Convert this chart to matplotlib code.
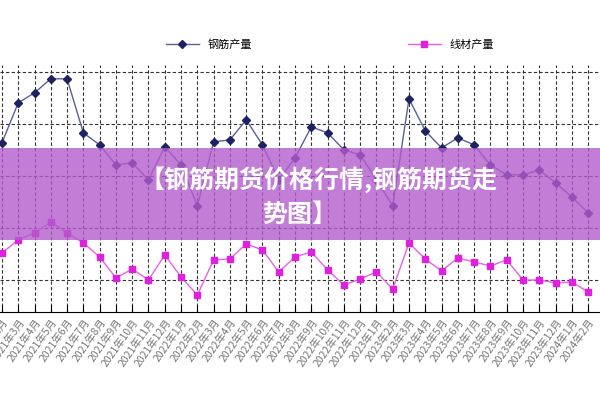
import numpy as np
import matplotlib.pyplot as plt
from matplotlib.patches import Rectangle

plt.rcParams['font.family'] = ['Noto Sans CJK SC', 'DejaVu Sans']

months = []
for y in (2021, 2022, 2023, 2024):
    for m in range(1, 13):
        months.append(f'{y}年{m}月')
months = months[1:38]  # 2021年2月 .. 2024年2月

rebar = [177, 217, 227, 241, 241, 187, 175, 155, 157, 140, 173, 155, 114, 178, 180,
         200, 175, 140, 162, 193, 187, 170, 165, 140, 114, 221, 189, 172, 182, 175,
         155, 145, 145, 150, 137, 123, 107]
wire = [67, 80, 87, 98, 87, 77, 63, 42, 51, 40, 65, 43, 25, 60, 61,
        76, 70, 48, 63, 68, 50, 35, 41, 48, 31, 77, 61, 49, 62, 58,
        54, 60, 40, 40, 37, 38, 28]

x = np.arange(len(months))

fig = plt.figure(figsize=(6, 4), dpi=100)
ax = fig.add_axes([0, 0.22, 1, 0.618])
ax.plot(x, rebar, color='#5a5f95', marker='D', markersize=4, lw=1.0,
        mfc='#1e2260', mec='#1e2260', label='钢筋产量')
ax.plot(x, wire, color='#e860e8', marker='s', markersize=5, lw=1.0,
        mfc='#e020e0', mec='#e020e0', label='线材产量')
ax.set_xlim(-0.12, 36.73)
ax.set_ylim(8, 255)
ax.set_xticks(x)
ax.set_xticklabels(months, rotation=55, ha='right', rotation_mode='anchor',
                   fontsize=7.5, color='#777777')
ax.set_yticks([40, 92, 144, 196, 248])
ax.tick_params(axis='y', left=False, labelleft=False)
ax.tick_params(axis='x', direction='in', length=5)
ax.grid(True, color='#333333', ls=(0, (3, 2)), lw=0.8)
for s in ('top', 'right', 'left'):
    ax.spines[s].set_visible(False)
ax.legend(loc='lower center', bbox_to_anchor=(0.55, 1.02), ncol=2, frameon=False,
          fontsize=8, columnspacing=14, handlelength=3)

fig.patches.append(Rectangle((0, 0.4), 1, 0.23, transform=fig.transFigure,
                             facecolor='#b35ccc', alpha=0.8, zorder=5))
fig.text(0.53, 0.55, '【钢筋期货价格行情,钢筋期货走', color='white', fontsize=18,
         fontweight='bold', ha='center', va='center', zorder=6)
fig.text(0.5, 0.462, '势图】', color='white', fontsize=18,
         fontweight='bold', ha='center', va='center', zorder=6)

fig.savefig('out.png')
